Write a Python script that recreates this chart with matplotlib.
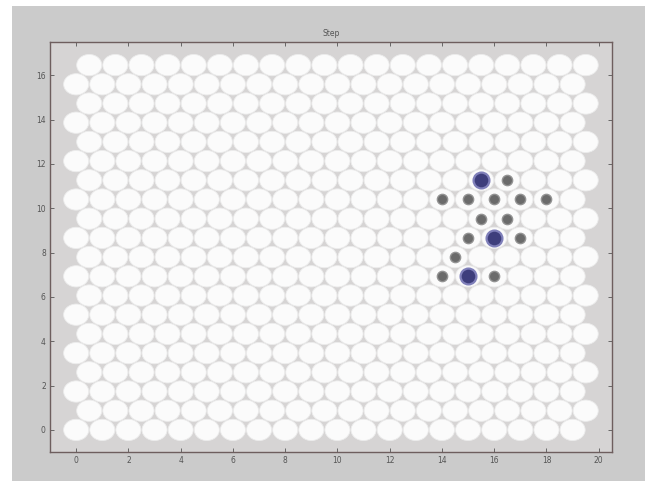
import numpy as np
import matplotlib
matplotlib.use("Agg")
import matplotlib.pyplot as plt
from matplotlib.patches import Ellipse, Rectangle

# hexagonal grid: 20 rows x 20 columns, odd rows shifted by half a cell
n_rows = 20
n_cols = 20
row_h = np.sqrt(3) / 2

# highlighted cells as (column x, row index)
blue_cells = [(15.5, 13), (16, 10), (15, 8)]
gray_cells = [(16.5, 13),
              (14, 12), (15, 12), (16, 12), (17, 12), (18, 12),
              (15.5, 11), (16.5, 11),
              (15, 10), (17, 10),
              (14.5, 9),
              (14, 8), (16, 8)]

title = "Step"
xticks = [0, 2, 4, 6, 8, 10, 12, 14, 16, 18, 20]
yticks = [0, 2, 4, 6, 8, 10, 12, 14, 16]

fig = plt.figure(figsize=(6.54, 4.93), dpi=100)
fig.patch.set_facecolor("white")
fig.patches.append(Rectangle((0.018, 0.025), 0.968, 0.963, transform=fig.transFigure,
                             facecolor="#cbcbcb", edgecolor="none", zorder=-10))

ax = fig.add_axes([0.0765, 0.083, 0.859, 0.832])
ax.set_zorder(1)
ax.set_facecolor("#d6d4d4")

for r in range(n_rows):
    off = 0.5 if r % 2 else 0.0
    for c in range(n_cols):
        ax.add_patch(Ellipse((c + off, r * row_h), 0.96, 0.96,
                             facecolor="#fbfbfb", edgecolor="#ececec", lw=0.6, zorder=2))

gx = [p[0] for p in gray_cells]
gy = [p[1] * row_h for p in gray_cells]
ax.scatter(gx, gy, s=55, c="#6b6b6b", edgecolors="#939393", linewidths=1.0, zorder=3)

bx = [p[0] for p in blue_cells]
by = [p[1] * row_h for p in blue_cells]
ax.scatter(bx, by, s=130, c="#3e3e7c", edgecolors="#8080ba", linewidths=1.6, zorder=3)

ax.set_xlim(-1, 20.5)
ax.set_ylim(-1, 17.5)
ax.set_xticks(xticks)
ax.set_yticks(yticks)
ax.tick_params(direction="in", top=True, right=True, length=3, width=0.6,
               labelsize=5.5, colors="#555555", pad=3)
for s in ax.spines.values():
    s.set_color("#6e5e5e")
    s.set_linewidth(1.0)
ax.set_title(title, fontsize=5.5, color="#555555", pad=4)

fig.savefig("out.png", dpi=100, facecolor=fig.get_facecolor())
